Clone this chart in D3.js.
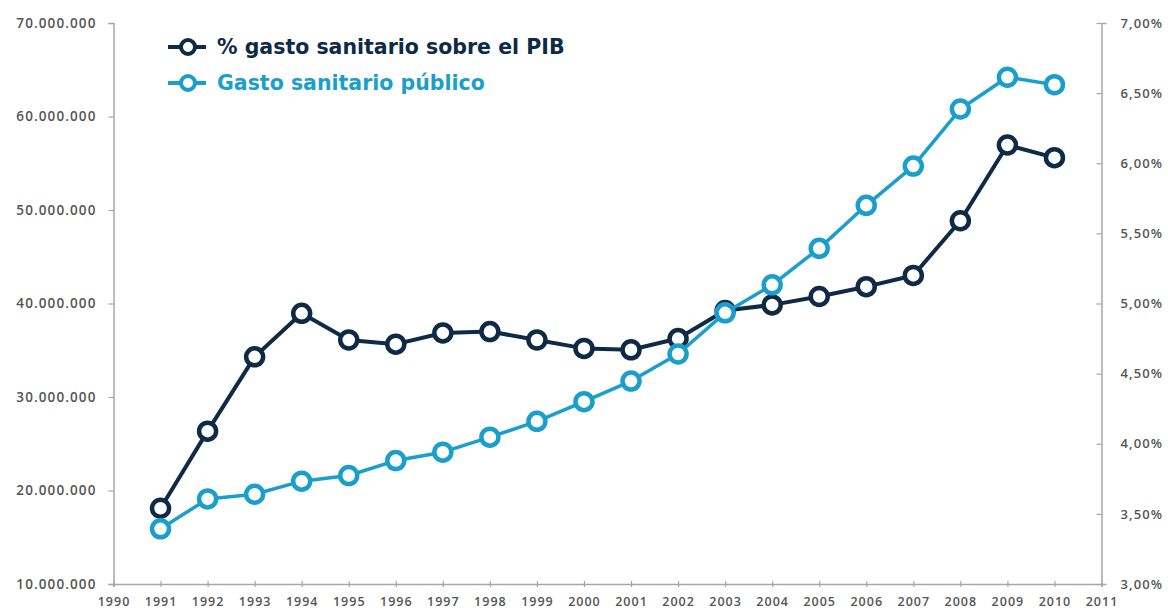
<!DOCTYPE html>
<html>
<head>
<meta charset="utf-8">
<script src="https://cdn.jsdelivr.net/npm/d3@7"></script>
<style>
  html, body { margin: 0; padding: 0; background: #ffffff; }
  svg { display: block; }
  .ax text { font-family: "Open Sans", sans-serif; font-weight: 600; fill: #555555; }
</style>
</head>
<body>
<svg id="chart" width="1168" height="610"></svg>
<script>
// ---- data ----
const years = [1991,1992,1993,1994,1995,1996,1997,1998,1999,2000,2001,2002,2003,2004,2005,2006,2007,2008,2009,2010];
const pctPIB = [3.54,4.09,4.62,4.93,4.74,4.71,4.79,4.80,4.74,4.68,4.67,4.75,4.95,4.99,5.05,5.12,5.20,5.59,6.13,6.04];
const gastoPublico = [15900000,19100000,19600000,21000000,21600000,23200000,24100000,25700000,27400000,29500000,31700000,34600000,39000000,42000000,45900000,50500000,54700000,60800000,64200000,63400000];
const xTicks = [1990,1991,1992,1993,1994,1995,1996,1997,1998,1999,2000,2001,2002,2003,2004,2005,2006,2007,2008,2009,2010,2011];
const leftTicks = [10000000,20000000,30000000,40000000,50000000,60000000,70000000];
const rightTicks = [3.0,3.5,4.0,4.5,5.0,5.5,6.0,6.5,7.0];
const seriesNames = ["% gasto sanitario sobre el PIB", "Gasto sanitario público"];
const colors = ["#0f2a47", "#1a9fcc"];

// ---- layout ----
const svg = d3.select("#chart");
const L = 113.5, R = 1101.5, T = 23, B = 584;

const x = d3.scaleLinear().domain([1990, 2011]).range([L, R]);
const yL = d3.scaleLinear().domain([10000000, 70000000]).range([B, T]);
const yR = d3.scaleLinear().domain([3.0, 7.0]).range([B, T]);

const fmtL = d => d3.format(",")(d).replace(/,/g, ".");
const fmtR = d => d3.format(".2f")(d).replace(".", ",") + "%";

const axisColor = "#a6a6a6";

// left axis
const gL = svg.append("g").attr("class", "ax").attr("transform", `translate(${L},0)`)
  .call(d3.axisLeft(yL).tickValues(leftTicks).tickFormat(fmtL).tickSize(5).tickPadding(12));
// right axis
const gR = svg.append("g").attr("class", "ax").attr("transform", `translate(${R},0)`)
  .call(d3.axisRight(yR).tickValues(rightTicks).tickFormat(fmtR).tickSize(5).tickPadding(14));
// bottom axis
const gB = svg.append("g").attr("class", "ax").attr("transform", `translate(0,${B})`)
  .call(d3.axisBottom(x).tickValues(xTicks).tickFormat(d3.format("d")).tickSize(3).tickPadding(10));

[gL, gR, gB].forEach(g => {
  g.select(".domain").attr("stroke", axisColor).attr("stroke-width", 1.5);
  g.selectAll(".tick line").attr("stroke", axisColor).attr("stroke-width", 1.2);
});
gR.selectAll(".tick line").attr("x1", -5).attr("x2", 0);
gB.selectAll(".tick line").attr("y1", -3).attr("y2", 3);
gL.selectAll(".tick text").style("font-size", "13.5px").style("letter-spacing", "1.1px");
gR.selectAll(".tick text").style("font-size", "13px").style("letter-spacing", "1.1px");
gB.selectAll(".tick text").style("font-size", "12.5px").style("letter-spacing", "1px");

// ---- series ----
const dataPct = years.map((yr, i) => ({ x: yr, y: pctPIB[i] }));
const dataGasto = years.map((yr, i) => ({ x: yr, y: gastoPublico[i] }));

function drawSeries(data, yScale, color, lw) {
  const line = d3.line().x(d => x(d.x)).y(d => yScale(d.y));
  svg.append("path").datum(data).attr("d", line)
    .attr("fill", "none").attr("stroke", color).attr("stroke-width", lw)
    .attr("stroke-linejoin", "round");
  svg.append("g").selectAll("circle").data(data).join("circle")
    .attr("cx", d => x(d.x)).attr("cy", d => yScale(d.y)).attr("r", 8.5)
    .attr("fill", "#ffffff").attr("stroke", color).attr("stroke-width", 4.5);
}
drawSeries(dataPct, yR, colors[0], 4);
drawSeries(dataGasto, yL, colors[1], 3.5);

// ---- legend ----
const legendRows = [{ name: seriesNames[0], color: colors[0], y: 47 }, { name: seriesNames[1], color: colors[1], y: 83 }];
const lg = svg.append("g");
legendRows.forEach(r => {
  lg.append("line").attr("x1", 168).attr("x2", 206).attr("y1", r.y).attr("y2", r.y)
    .attr("stroke", r.color).attr("stroke-width", 4);
  lg.append("circle").attr("cx", 188).attr("cy", r.y).attr("r", 7)
    .attr("fill", "#fff").attr("stroke", r.color).attr("stroke-width", 4);
  lg.append("text").attr("x", 217).attr("y", r.y).attr("dy", "0.36em")
    .attr("fill", r.color).style("font-family", "'DejaVu Sans', sans-serif")
    .style("font-weight", "700").style("font-size", "20.5px")
    .text(r.name);
});
</script>
</body>
</html>
